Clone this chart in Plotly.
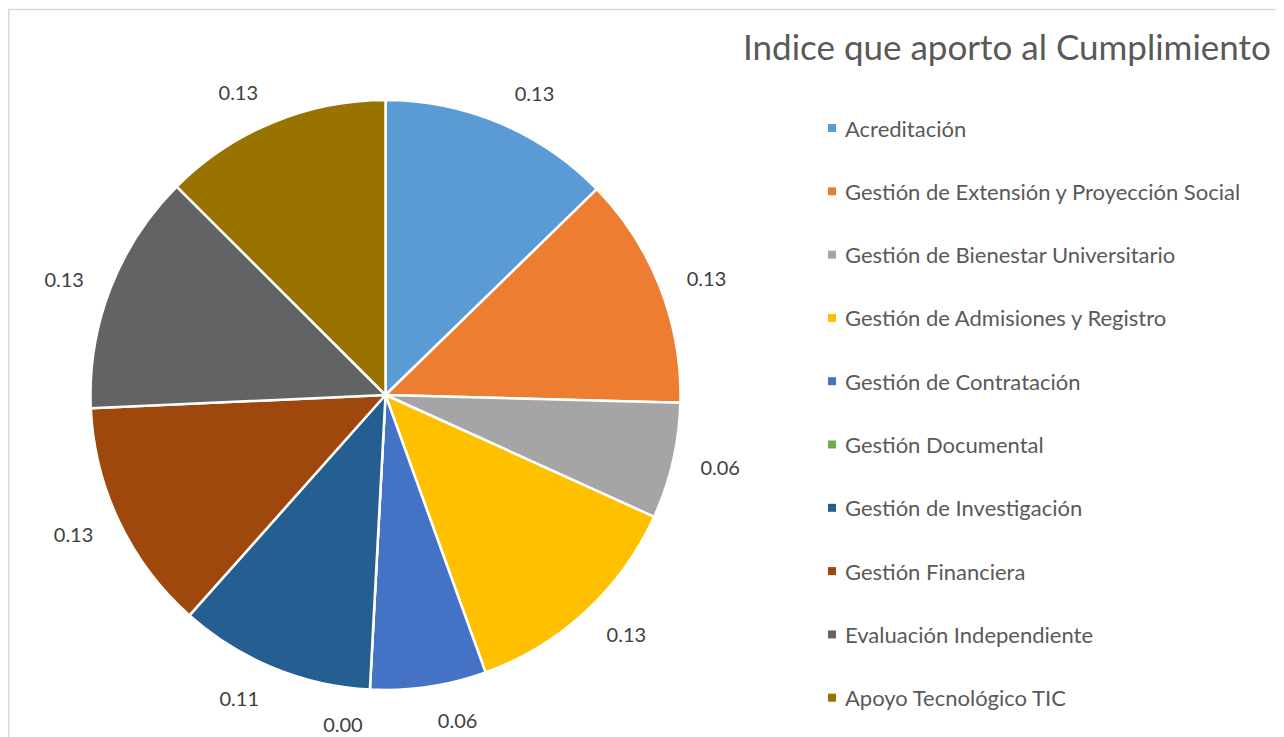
import plotly.graph_objects as go

categories = [
    "Acreditación",
    "Gestión de Extensión y Proyección Social",
    "Gestión de Bienestar Universitario",
    "Gestión de Admisiones y Registro",
    "Gestión de Contratación",
    "Gestión Documental",
    "Gestión de Investigación",
    "Gestión Financiera",
    "Evaluación Independiente",
    "Apoyo Tecnológico TIC",
]
values = [0.128, 0.128, 0.064, 0.128, 0.064, 0.0, 0.108, 0.128, 0.133, 0.126]
colors = ["#5B9BD5", "#ED7D31", "#A5A5A5", "#FFC000", "#4472C4",
          "#70AD47", "#255E91", "#9E480E", "#636363", "#997300"]
title_text = "Indice que aporto al Cumplimiento"

# the page body adds an 8px margin; positions below are in window pixels
OX, OY = 8, 8
W, H = 1284, 737
FONT = "Lato"


def px(X):
    return (X - OX) / W


def py(Y):
    return 1 - (Y - OY) / H


# pie geometry in window pixels
CX, CY, R = 385.5, 395, 295
LR = R + 22  # radius used only to place the outside value labels

fig = go.Figure()
# invisible pie that only carries the value labels, a bit farther out
fig.add_trace(go.Pie(
    labels=categories,
    values=values,
    sort=False,
    direction="clockwise",
    rotation=0,
    marker=dict(colors=["rgba(0,0,0,0)"] * len(values), line=dict(width=0)),
    texttemplate="%{value:.2f}",
    textposition="outside",
    outsidetextfont=dict(family=FONT, size=20, color="#404040"),
    showlegend=False,
    hoverinfo="skip",
    domain=dict(x=[px(CX - LR), px(CX + LR)], y=[py(CY + LR), py(CY - LR)]),
))
fig.add_trace(go.Pie(
    labels=categories,
    values=values,
    sort=False,
    direction="clockwise",
    rotation=0,
    marker=dict(colors=colors, line=dict(color="white", width=2.5)),
    textinfo="none",
    showlegend=False,
    hoverinfo="label+value",
    domain=dict(x=[px(CX - R), px(CX + R)], y=[py(CY + R), py(CY - R)]),
))

shapes = [dict(type="rect", xref="paper", yref="paper",
               x0=px(8.8), x1=px(1282.5), y0=-0.05, y1=py(9.5),
               line=dict(color="#D9D9D9", width=1.5), fillcolor="rgba(0,0,0,0)")]
annotations = [dict(text=title_text, xref="paper", yref="paper",
                    x=px(1273), y=py(46), xanchor="right", yanchor="middle",
                    showarrow=False, font=dict(family=FONT, size=35, color="#595959"))]

row0, step = 128, 63.3
for i, (cat, col) in enumerate(zip(categories, colors)):
    yc = row0 + i * step
    shapes.append(dict(type="rect", xref="paper", yref="paper",
                       x0=px(828), x1=px(836), y0=py(yc + 4), y1=py(yc - 4),
                       line=dict(width=0), fillcolor=col))
    annotations.append(dict(text=cat, xref="paper", yref="paper",
                            x=px(843), y=py(yc), xanchor="left", yanchor="middle",
                            showarrow=False, font=dict(family=FONT, size=22, color="#595959")))

fig.update_layout(
    width=W, height=H,
    margin=dict(l=0, r=0, t=0, b=0),
    paper_bgcolor="white",
    plot_bgcolor="white",
    shapes=shapes,
    annotations=annotations,
)

fig.write_html("out.html")
